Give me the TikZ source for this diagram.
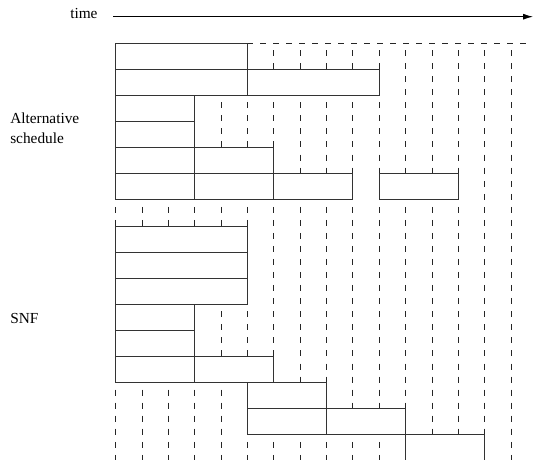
\documentclass[tikz,border=0pt]{standalone}
\usepackage{fontspec}
\setmainfont{Liberation Serif}
\usetikzlibrary{arrows.meta}
\tikzset{
  boxline/.style={draw=black!80, line width=0.6pt},
  gridline/.style={draw=black!85, line width=0.6pt, dash pattern=on 4.5pt off 5.25pt, dash phase=4.5pt},
  hdash/.style={draw=black!85, line width=0.6pt, dash pattern=on 4.5pt off 5.25pt},
  lbl/.style={font=\fontsize{11.5}{15}\selectfont, inner sep=0pt, anchor=base west},
  timearrow/.style={draw=black, line width=0.7pt, -{Latex[length=7.5pt,width=4.5pt]}}
}
\begin{document}
\begin{tikzpicture}[x=0.75pt,y=-0.75pt]
\useasboundingbox (0,0) rectangle (533,460);
% time axis
\node[lbl] (time) at (70,18.3) {time};
\coordinate (tstart) at (113,16.7);
\coordinate (tend) at (533,16.7);
\draw[timearrow] (tstart) -- (tend);
% labels
\node[lbl] (alt1) at (10,123.3) {Alternative};
\node[lbl] (alt2) at (10,143.3) {schedule};
\node[lbl] (snf) at (10,323.3) {SNF};
\coordinate (topend) at (533,43.3);
\begin{scope}[shift={(115.7,43.3)}, x=19.7625pt, y=-19.575pt]
  % dashed top line
  \draw[hdash] (5,0) -- (topend);
  % dashed verticals
  \foreach \c in {6,...,15} \draw[gridline] (\c,0) -- (\c,1);
  \foreach \c in {11,...,15} \draw[gridline] (\c,1) -- (\c,2);
  \foreach \c in {4,...,15} \draw[gridline] (\c,2) -- (\c,4);
  \foreach \c in {7,...,15} \draw[gridline] (\c,4) -- (\c,5);
  \foreach \c in {14,15} \draw[gridline] (\c,5) -- (\c,6);
  \foreach \c in {0,...,15} \draw[gridline] (\c,6) -- (\c,7);
  \foreach \c in {6,...,15} \draw[gridline] (\c,7) -- (\c,10);
  \foreach \c in {4,...,15} \draw[gridline] (\c,10) -- (\c,12);
  \foreach \c in {7,...,15} \draw[gridline] (\c,12) -- (\c,13);
  \foreach \c in {0,...,4,9,10,11,12,13,14,15} \draw[gridline] (\c,13) -- (\c,14);
  \foreach \c in {0,...,4,12,13,14,15} \draw[gridline] (\c,14) -- (\c,15);
  \foreach \c in {0,...,10,15} \draw[gridline] (\c,15) -- (\c,16);
  % alternative schedule boxes
  \draw[boxline] (0,0) rectangle (5,1);
  \draw[boxline] (0,1) rectangle (5,2);
  \draw[boxline] (5,1) rectangle (10,2);
  \draw[boxline] (0,2) rectangle (3,3);
  \draw[boxline] (0,3) rectangle (3,4);
  \draw[boxline] (0,4) rectangle (3,5);
  \draw[boxline] (3,4) rectangle (6,5);
  \draw[boxline] (0,5) rectangle (3,6);
  \draw[boxline] (3,5) rectangle (6,6);
  \draw[boxline] (6,5) rectangle (9,6);
  \draw[boxline] (10,5) rectangle (13,6);
  % SNF boxes
  \draw[boxline] (0,7) rectangle (5,8);
  \draw[boxline] (0,8) rectangle (5,9);
  \draw[boxline] (0,9) rectangle (5,10);
  \draw[boxline] (0,10) rectangle (3,11);
  \draw[boxline] (0,11) rectangle (3,12);
  \draw[boxline] (0,12) rectangle (3,13);
  \draw[boxline] (3,12) rectangle (6,13);
  \draw[boxline] (5,13) rectangle (8,14);
  \draw[boxline] (5,14) rectangle (8,15);
  \draw[boxline] (8,14) rectangle (11,15);
  \draw[boxline] (11,15) rectangle (14,16);
\end{scope}
\end{tikzpicture}
\end{document}
